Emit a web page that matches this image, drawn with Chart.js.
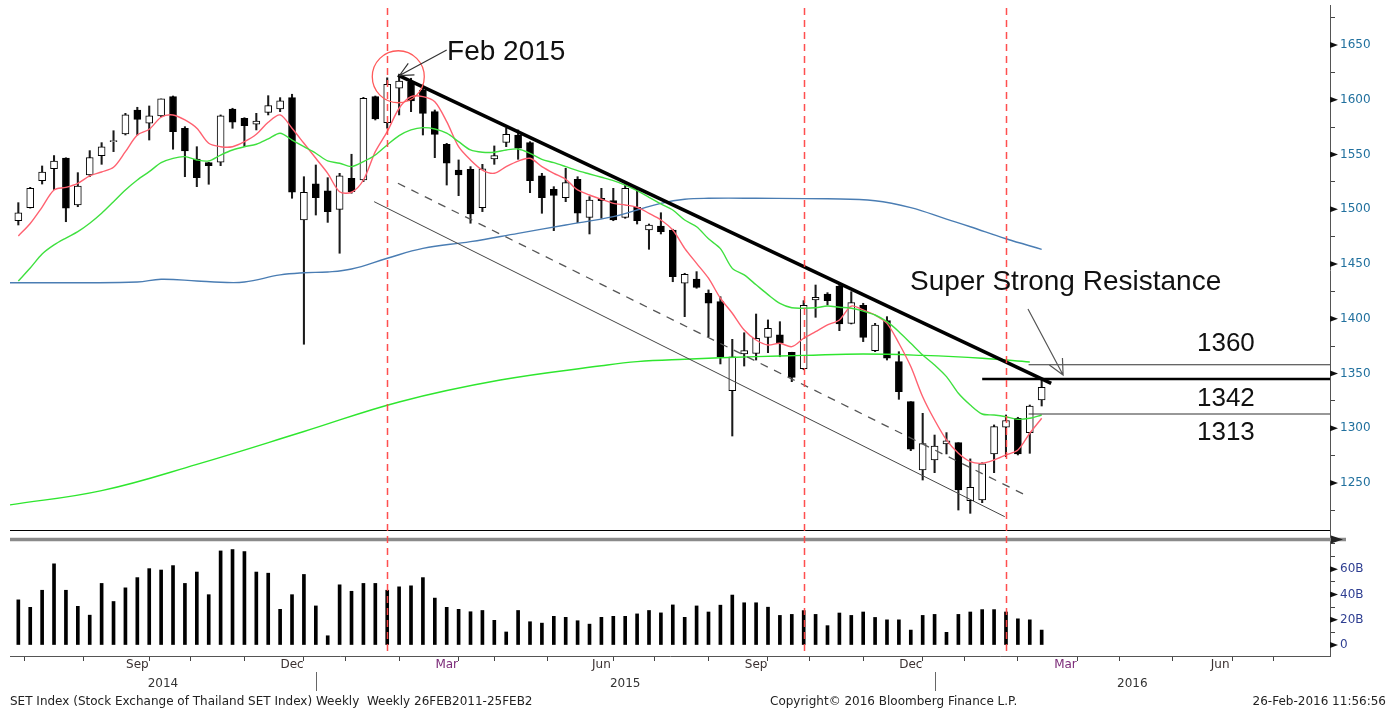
<!DOCTYPE html>
<html>
<head>
<meta charset="utf-8">
<script src="https://cdn.jsdelivr.net/npm/chart.js@4.4.1/dist/chart.umd.min.js"></script>
<style>
  html, body { margin: 0; padding: 0; background: #fff; }
  canvas { display: block; }
</style>
</head>
<body>
<canvas id="chart" width="1394" height="713"></canvas>
<script>
'use strict';

// weekly SET index candles (index 0 = week of 11 Jul 2014)
const opens = [1489.5, 1501.4, 1526, 1537, 1546.6, 1504, 1531.4, 1549, 1561.7, 1568.7,
  1590.6, 1578.5, 1585.2, 1602.8, 1573.9, 1545.9, 1542.5, 1542.9, 1591.5, 1583,
  1577.6, 1588.5, 1591.5, 1601.9, 1490.2, 1523.1, 1516.7, 1499.9, 1528.3, 1526.7,
  1602.8, 1579, 1610.5, 1615.9, 1608.9, 1589.1, 1559.3, 1535.8, 1536.5, 1501.4,
  1545.9, 1561.1, 1567.8, 1560.8, 1530.4, 1518.2, 1510.6, 1527.4, 1492.6, 1510,
  1507.8, 1492.6, 1501.8, 1481, 1484.7, 1481, 1432.4, 1436.3, 1423.3, 1415.6,
  1334.3, 1367.8, 1368.4, 1383, 1385.2, 1369.4, 1354.3, 1417.1, 1422.6, 1429.9,
  1395.8, 1412.2, 1370.8, 1398.2, 1360.8, 1324.3, 1262, 1271, 1285.6, 1286.8,
  1233.8, 1234.5, 1276.5, 1301, 1309.1, 1296, 1325.8];
const highs = [1506, 1520, 1539.5, 1549, 1547, 1533.4, 1553.5, 1560.8, 1571.7, 1587.6,
  1593.1, 1594.3, 1600.7, 1603.4, 1575.4, 1557.1, 1542.9, 1586.1, 1592.2, 1583.6,
  1587.6, 1603.7, 1601.9, 1605, 1529.7, 1540.4, 1528.8, 1532.8, 1550.2, 1602.2,
  1603.4, 1620, 1621, 1619.6, 1613.5, 1590.6, 1560.2, 1545, 1538.9, 1541,
  1557.8, 1573.9, 1572.4, 1561.7, 1532.8, 1520.6, 1537.4, 1529.7, 1511.5, 1519.1,
  1519.1, 1522.1, 1518.2, 1486.5, 1496.8, 1481.7, 1441.5, 1443, 1426.3, 1420.1,
  1381.2, 1387.2, 1404.3, 1398.9, 1397.3, 1369.4, 1416.5, 1430.8, 1423.8, 1431.7,
  1424.7, 1414.1, 1395.8, 1401.9, 1369.9, 1324.3, 1313.6, 1293.8, 1296, 1286.8,
  1272, 1268.5, 1303, 1312.1, 1310, 1321.2, 1344.1];
const lows = [1485.6, 1501, 1523, 1518, 1488.6, 1502.3, 1529.7, 1541, 1552.6, 1567.8,
  1567.8, 1563.2, 1584.5, 1554.8, 1529.7, 1520.6, 1522.8, 1539.8, 1573.9, 1557.1,
  1572.4, 1586.1, 1589.1, 1510, 1376.7, 1494.7, 1488, 1459.8, 1514.6, 1525.2,
  1581.5, 1574, 1586.1, 1589.1, 1567.8, 1547.1, 1522.1, 1512.4, 1487.2, 1497.8,
  1541, 1557.1, 1545.6, 1515.1, 1496.3, 1480.4, 1506.9, 1487.7, 1477.4, 1491.7,
  1489.5, 1491.7, 1486.5, 1463.4, 1477.4, 1433.8, 1401.9, 1427.8, 1383.6, 1358.7,
  1292.9, 1356.8, 1362.3, 1369, 1365.3, 1342.5, 1353.4, 1401.3, 1412.6, 1389.1,
  1395.2, 1379.1, 1369.9, 1362.3, 1326.4, 1279.5, 1252.7, 1259.4, 1276.5, 1225.3,
  1222.3, 1232, 1259.4, 1274, 1275.6, 1277.1, 1320.3];
const closes = [1496.8, 1519.1, 1534, 1544, 1501, 1521.2, 1547.2, 1557, 1562.6, 1586.1,
  1582.1, 1585.2, 1600.7, 1570.8, 1553.2, 1528.9, 1539.8, 1585.4, 1579.4, 1576.3,
  1580.6, 1594.6, 1598.9, 1515.5, 1515.5, 1510.6, 1497.8, 1530.6, 1516, 1601.3,
  1582.4, 1614, 1617.1, 1598.9, 1587.6, 1568.4, 1542, 1531.3, 1495.7, 1536.8,
  1548.9, 1568.4, 1555.7, 1526.1, 1510.6, 1512.7, 1524.3, 1496.3, 1508.4, 1507.8,
  1490.2, 1519.1, 1489.5, 1485.6, 1479.5, 1438.4, 1440.6, 1428.7, 1414.1, 1365.3,
  1365.3, 1370.8, 1382.2, 1391.3, 1377.6, 1346.5, 1412.2, 1419.6, 1416.5, 1395.2,
  1414.7, 1383, 1394.3, 1363.9, 1333.4, 1280.8, 1286, 1283.8, 1288.6, 1243.6,
  1246.1, 1267.4, 1301.4, 1307.1, 1276.5, 1320.3, 1337.4];

// weekly value traded, billions of baht
const volumes = [35.7, 29.8, 43.3, 64.2, 43.3, 30.6, 23.6, 48.7, 34.4, 45.2,
  53.3, 60.4, 59.3, 62.8, 48.7, 57.7, 39.8, 74.4, 75.5, 73.9,
  57.7, 56.8, 28.2, 39.8, 55.8, 30.9, 7.3, 47.6, 42.5, 48.7,
  48.7, 43.3, 46, 46.8, 53.3, 37.1, 29.8, 28.2, 26.3, 27.3,
  19.5, 10.3, 27.3, 18.4, 17.3, 22.7, 21.9, 19.2, 16.5, 21.9,
  22.7, 22.7, 24.6, 27.3, 25.4, 31.7, 21.9, 30.9, 26.1, 31.5,
  39.5, 33.4, 33.4, 29.9, 23.4, 24.2, 27.2, 24.2, 15.3, 25.3,
  23.4, 26.1, 21.8, 19.9, 19.9, 11.8, 23.4, 24.2, 10, 24.2,
  26.1, 28, 28, 26.1, 20.7, 19.9, 11.8];

// moving averages, one value per week
const maShort = [1475.6, 1487, 1502, 1517.6, 1520, 1523.7, 1530.4, 1534, 1538.3, 1552.6,
  1567.8, 1573, 1584, 1586.1, 1581.5, 1573.9, 1560.2, 1557.1, 1557.1, 1561.7,
  1568.4, 1579.4, 1586.1, 1573.9, 1560.2, 1546.5, 1532.8, 1516, 1515.5, 1526.7,
  1552.6, 1570.8, 1592.2, 1602.8, 1602.8, 1598.2, 1580, 1557.1, 1545, 1535.8,
  1532.8, 1538.9, 1544, 1546.5, 1538.9, 1532.8, 1527.4, 1517.6, 1513, 1509.1,
  1505.4, 1503.9, 1501.8, 1496.3, 1490.2, 1481, 1464.3, 1450.6, 1437, 1418.7,
  1405, 1389.7, 1380.6, 1376, 1377.6, 1374.5, 1382.2, 1388.2, 1394.3, 1398.9,
  1411.6, 1408, 1403.4, 1395.8, 1377.6, 1356.3, 1328.8, 1307.5, 1289.3, 1277.1,
  1269.5, 1268, 1271, 1275.6, 1280.1, 1295.4, 1309.1];
const maMid = [1434.5, 1446.3, 1459.1, 1467.4, 1473.7, 1479.5, 1487.2, 1496.3, 1506.9, 1517.6,
  1526.7, 1534.3, 1542.5, 1546.5, 1548, 1545, 1544.1, 1549.5, 1554.1, 1557.1,
  1559.3, 1564.2, 1569.4, 1563.2, 1557.1, 1551.1, 1544.1, 1542, 1538.9, 1543.4,
  1549.5, 1558.7, 1567.2, 1572.4, 1574.5, 1573.3, 1569.4, 1561.7, 1554.1, 1552,
  1552, 1554.1, 1555, 1551.1, 1545.6, 1542.5, 1538.9, 1535.2, 1532.2, 1529.2,
  1526.1, 1522.1, 1517, 1510.9, 1504.8, 1499.3, 1490.2, 1484, 1473, 1464,
  1446, 1440, 1431, 1422, 1414, 1410, 1409.6, 1410, 1411.6, 1410.5,
  1409.6, 1407, 1403.4, 1397.3, 1388.2, 1377.6, 1366.9, 1357.8, 1347.1, 1331.9,
  1321.2, 1313, 1312.1, 1310.5, 1308.1, 1309.1, 1312.1];
// slower averages, read at [week, value]
const maYear = [[-0.7, 1432.9], [5, 1432.9], [10, 1433.5], [12, 1436], [15, 1434.5], [17, 1433.3],
  [19, 1433.5], [22, 1440], [24, 1442], [26, 1442.7], [28, 1445.4], [31, 1455.2], [34, 1464.3],
  [38, 1470.4], [42, 1478], [46, 1485.6], [50, 1493.2], [52, 1499.3], [54, 1505.4], [56, 1509.1],
  [58, 1510], [62, 1510], [68, 1509.5], [72, 1507.8], [75, 1501.5], [78, 1491], [80, 1484],
  [83, 1473], [86, 1463.4]];
const maLong = [[-0.7, 1230], [7, 1243], [15, 1267], [24, 1297], [32, 1324], [40.5, 1344],
  [49, 1357], [52, 1360.8], [56, 1363], [62, 1365.4], [66, 1366.5], [71, 1367.8], [76, 1366.5],
  [81, 1363.9], [85, 1360.5]];

// drawn analysis
const resistanceLine = [[31.9, 1622.5], [86.8, 1341]];
const channelMid = [[31.9, 1523.7], [84.5, 1239.7]];
const channelLow = [[29.9, 1506.9], [82.9, 1219.2]];
const levelValues = [1358, 1345, 1313];
const levelStarts = [84.9, 81, 84.9];
const levelLabels = ['1360', '1342', '1313'];
const markerWeeks = [31, 66, 83];

// axes
const priceTicks = [1225, 1250, 1275, 1300, 1325, 1350, 1375, 1400, 1425, 1450, 1475,
  1500, 1525, 1550, 1575, 1600, 1625, 1650, 1675];
const volumeTicks = [0, 10, 20, 30, 40, 50, 60, 70, 80];
const volumeLabels = {0: '0', 20: '20B', 40: '40B', 60: '60B'};
const monthStarts = [3, 8, 12, 17, 21, 25, 30, 34, 38, 42, 47, 51, 56, 60, 64, 69, 73, 77, 82, 86, 90, 95, 99, 103, 108];
const monthNames = ['Aug', 'Sep', 'Oct', 'Nov', 'Dec', 'Jan', 'Feb', 'Mar', 'Apr', 'May', 'Jun', 'Jul',
  'Aug', 'Sep', 'Oct', 'Nov', 'Dec', 'Jan', 'Feb', 'Mar', 'Apr', 'May', 'Jun', 'Jul', 'Aug'];
const shownMonths = ['Sep', 'Dec', 'Mar', 'Jun'];
const yearStarts = [25, 77];
const yearNames = ['2014', '2015', '2016'];

const xMin = -0.7;
const xMax = 110.23;

let weeks = closes.map((c, i) => i);

let monthLabelAt = {};
for (let i = 0; i < monthStarts.length - 1; i++) {
  if (shownMonths.includes(monthNames[i])) {
    monthLabelAt[(monthStarts[i] + monthStarts[i + 1]) / 2] = monthNames[i];
  }
}

function pairs(list) {
  return list.map(p => ({x: p[0], y: p[1]}));
}

function drawArrow(ctx, x1, y1, x2, y2, size) {
  let angle = Math.atan2(y2 - y1, x2 - x1);
  ctx.beginPath();
  ctx.moveTo(x1, y1);
  ctx.lineTo(x2, y2);
  ctx.moveTo(x2 - size * Math.cos(angle - 0.45), y2 - size * Math.sin(angle - 0.45));
  ctx.lineTo(x2, y2);
  ctx.lineTo(x2 - size * Math.cos(angle + 0.45), y2 - size * Math.sin(angle + 0.45));
  ctx.stroke();
}

// keep the plot area where the picture has it: no extra room for edge labels
function noEdgePadding(scale) {
  scale.paddingTop = 0;
  scale.paddingBottom = 0;
  scale.paddingLeft = 0;
  scale.paddingRight = 0;
}

let decorations = {
  id: 'decorations',
  afterDraw(chart) {
    let ctx = chart.ctx;
    let area = chart.chartArea;
    let x = chart.scales.x;
    let y = chart.scales.y;
    let yv = chart.scales.yv;
    ctx.save();

    // panel separators
    ctx.strokeStyle = '#000';
    ctx.lineWidth = 1;
    ctx.beginPath();
    ctx.moveTo(area.left, Math.round(y.getPixelForValue(1207)) + 0.5);
    ctx.lineTo(area.right, Math.round(y.getPixelForValue(1207)) + 0.5);
    ctx.stroke();
    let sep = yv.getPixelForValue(83.4);
    ctx.strokeStyle = '#8a8a8a';
    ctx.lineWidth = 3.5;
    ctx.beginPath();
    ctx.moveTo(area.left, sep);
    ctx.lineTo(area.right + 16, sep);
    ctx.stroke();
    ctx.fillStyle = '#222';
    ctx.beginPath();
    ctx.moveTo(area.right + 1, sep - 4);
    ctx.lineTo(area.right + 13, sep);
    ctx.lineTo(area.right + 1, sep + 4);
    ctx.fill();

    // major tick arrows on the right axis
    ctx.fillStyle = '#111';
    let arrowTicks = priceTicks.filter(v => v % 50 === 0).map(v => y.getPixelForValue(v))
      .concat(Object.keys(volumeLabels).map(v => yv.getPixelForValue(Number(v))));
    arrowTicks.forEach(py => {
      ctx.beginPath();
      ctx.moveTo(area.right, py - 3);
      ctx.lineTo(area.right + 8, py);
      ctx.lineTo(area.right, py + 3);
      ctx.fill();
    });

    // red dashed week markers
    ctx.strokeStyle = 'rgba(255, 70, 70, 0.95)';
    ctx.lineWidth = 1.5;
    ctx.setLineDash([7, 5]);
    markerWeeks.forEach(w => {
      let px = Math.round(x.getPixelForValue(w)) + 0.5;
      ctx.beginPath();
      ctx.moveTo(px, area.top + 3);
      ctx.lineTo(px, area.bottom);
      ctx.stroke();
    });
    ctx.setLineDash([]);

    // Feb 2015 top
    ctx.strokeStyle = '#ff5a5a';
    ctx.lineWidth = 1.3;
    ctx.beginPath();
    ctx.arc(x.getPixelForValue(31.93), y.getPixelForValue(1621), 26, 0, Math.PI * 2);
    ctx.stroke();
    ctx.strokeStyle = '#333';
    ctx.lineWidth = 1.2;
    drawArrow(ctx, x.getPixelForValue(36), y.getPixelForValue(1645.4),
      x.getPixelForValue(32.03), y.getPixelForValue(1622.1), 15);
    ctx.strokeStyle = '#555';
    drawArrow(ctx, x.getPixelForValue(84.85), y.getPixelForValue(1408.9),
      x.getPixelForValue(87.8), y.getPixelForValue(1348.6), 17);

    ctx.fillStyle = '#111';
    ctx.textBaseline = 'alphabetic';
    ctx.textAlign = 'left';
    ctx.font = '28px "Liberation Sans", Arial, sans-serif';
    ctx.fillText('Feb 2015', x.getPixelForValue(36.03), y.getPixelForValue(1636.3));
    ctx.fillText('Super Strong Resistance', x.getPixelForValue(74.93), y.getPixelForValue(1426.3));
    ctx.font = '26px "Liberation Sans", Arial, sans-serif';
    let labelValues = [1370.5, 1320.3, 1289.3];
    levelLabels.forEach((t, i) => {
      ctx.fillText(t, x.getPixelForValue(99.05), y.getPixelForValue(labelValues[i]));
    });

    // years and footer
    let bottom = area.bottom;
    ctx.strokeStyle = '#666';
    ctx.lineWidth = 1;
    yearStarts.forEach(w => {
      let px = Math.round(x.getPixelForValue(w)) + 0.5;
      ctx.beginPath();
      ctx.moveTo(px, bottom + 16);
      ctx.lineTo(px, bottom + 35);
      ctx.stroke();
    });
    let bounds = [xMin].concat(yearStarts, [xMax]);
    ctx.font = '12px "DejaVu Sans", sans-serif';
    ctx.fillStyle = '#333';
    ctx.textAlign = 'center';
    ctx.textBaseline = 'middle';
    yearNames.forEach((t, i) => {
      ctx.fillText(t, x.getPixelForValue((bounds[i] + bounds[i + 1]) / 2), bottom + 28);
    });
    ctx.fillStyle = '#222';
    ctx.textAlign = 'left';
    ctx.fillText('SET Index (Stock Exchange of Thailand SET Index) Weekly  Weekly 26FEB2011-25FEB2', 10, bottom + 46, 565);
    ctx.fillText('Copyright\u00a9 2016 Bloomberg Finance L.P.', 770, bottom + 46, 266);
    ctx.textAlign = 'right';
    ctx.fillText('26-Feb-2016 11:56:56', 1386, bottom + 46, 150);
    ctx.restore();
  }
};

let chartConfig = {
  type: 'bar',
  data: {
    datasets: [
      {
        label: 'Wicks',
        data: weeks.map(i => ({x: i, y: [lows[i], highs[i]]})),
        yAxisID: 'y',
        grouped: false,
        barThickness: 1.4,
        backgroundColor: '#1a1a1a',
        order: 6,
      },
      {
        label: 'Bodies',
        data: weeks.map(i => ({x: i, y: [Math.min(opens[i], closes[i]), Math.max(opens[i], closes[i])]})),
        yAxisID: 'y',
        grouped: false,
        barThickness: 7,
        backgroundColor: weeks.map(i => (closes[i] >= opens[i] ? '#ffffff' : '#000000')),
        borderColor: '#000',
        borderWidth: 1,
        borderSkipped: false,
        order: 5,
      },
      {
        label: 'Volume',
        data: weeks.map(i => ({x: i, y: volumes[i]})),
        yAxisID: 'yv',
        grouped: false,
        barThickness: 3,
        backgroundColor: '#000',
        order: 5,
      },
      {
        type: 'line', label: 'Long MA', data: pairs(maLong), yAxisID: 'y',
        borderColor: '#2ee62e', borderWidth: 1.4, pointRadius: 0, tension: 0.4, order: 3,
      },
      {
        type: 'line', label: 'Year MA', data: pairs(maYear), yAxisID: 'y',
        borderColor: '#4a7db3', borderWidth: 1.4, pointRadius: 0, tension: 0.4, order: 3,
      },
      {
        type: 'line', label: 'Mid MA', data: weeks.map(i => ({x: i, y: maMid[i]})), yAxisID: 'y',
        borderColor: '#3fe03f', borderWidth: 1.4, pointRadius: 0, tension: 0.3, order: 2,
      },
      {
        type: 'line', label: 'Short MA', data: weeks.map(i => ({x: i, y: maShort[i]})), yAxisID: 'y',
        borderColor: '#ff6170', borderWidth: 1.4, pointRadius: 0, tension: 0.3, order: 2,
      },
      {
        type: 'line', label: 'Channel low', data: pairs(channelLow), yAxisID: 'y',
        borderColor: '#444', borderWidth: 1, pointRadius: 0, order: 1,
      },
      {
        type: 'line', label: 'Channel mid', data: pairs(channelMid), yAxisID: 'y',
        borderColor: '#555', borderWidth: 1.3, borderDash: [8, 7], pointRadius: 0, order: 1,
      },
      {
        type: 'line', label: 'Resistance', data: pairs(resistanceLine), yAxisID: 'y',
        borderColor: '#000', borderWidth: 3.5, pointRadius: 0, order: 0,
      },
    ].concat(levelValues.map((v, i) => ({
      type: 'line',
      label: levelLabels[i],
      data: [{x: levelStarts[i], y: v}, {x: xMax, y: v}],
      yAxisID: 'y',
      borderColor: i === 1 ? '#000' : '#333',
      borderWidth: i === 1 ? 2.5 : 1.1,
      pointRadius: 0,
      order: 0,
    }))),
  },
  options: {
    responsive: false,
    animation: false,
    events: [],
    layout: { padding: { left: 10, top: 5, right: 0, bottom: 0 } },
    plugins: { legend: { display: false }, tooltip: { enabled: false } },
    scales: {
      x: {
        type: 'linear',
        min: xMin,
        max: xMax,
        offset: false,
        afterFit: (scale) => { scale.height = 57; noEdgePadding(scale); },
        afterBuildTicks: (scale) => {
          let values = monthStarts.concat(Object.keys(monthLabelAt).map(Number));
          values.sort((a, b) => a - b);
          scale.ticks = values.map(v => ({ value: v }));
        },
        border: { display: true, color: '#555' },
        grid: {
          drawOnChartArea: false,
          tickLength: 5,
          tickColor: (ctx) => (ctx.tick && monthStarts.includes(ctx.tick.value) ? '#444' : 'rgba(0,0,0,0)'),
        },
        ticks: {
          autoSkip: false,
          maxRotation: 0,
          padding: -3,
          font: { family: 'DejaVu Sans', size: 12 },
          color: (ctx) => (ctx.tick && ctx.tick.label === 'Mar' ? '#7b2a78' : '#3a3030'),
          callback: (value) => monthLabelAt[value] || '',
        },
      },
      y: {
        type: 'linear',
        position: 'right',
        stack: 'panels',
        stackWeight: 530,
        min: 1202.5,
        max: 1686.5,
        afterFit: (scale) => { scale.width = 64; noEdgePadding(scale); },
        afterBuildTicks: (scale) => { scale.ticks = priceTicks.map(v => ({ value: v })); },
        border: { display: true, color: '#555' },
        grid: { drawOnChartArea: false, tickLength: 5, tickColor: '#444' },
        ticks: {
          autoSkip: false,
          padding: 5,
          font: { family: 'DejaVu Sans', size: 12 },
          color: '#21709e',
          callback: (value) => (value % 50 === 0 ? String(value) : ''),
        },
      },
      yv: {
        type: 'linear',
        position: 'right',
        stack: 'panels',
        stackWeight: 121,
        min: -8.7,
        max: 87,
        afterFit: (scale) => { scale.width = 64; noEdgePadding(scale); },
        afterBuildTicks: (scale) => { scale.ticks = volumeTicks.map(v => ({ value: v })); },
        border: { display: true, color: '#555' },
        grid: { drawOnChartArea: false, tickLength: 5, tickColor: '#444' },
        ticks: {
          autoSkip: false,
          padding: 5,
          font: { family: 'DejaVu Sans', size: 12 },
          color: '#2f3f92',
          callback: (value) => volumeLabels[value] || '',
        },
      },
    },
  },
  plugins: [decorations],
};

let canvas = document.getElementById('chart');
let chart = new Chart(canvas, chartConfig);
</script>
</body>
</html>
